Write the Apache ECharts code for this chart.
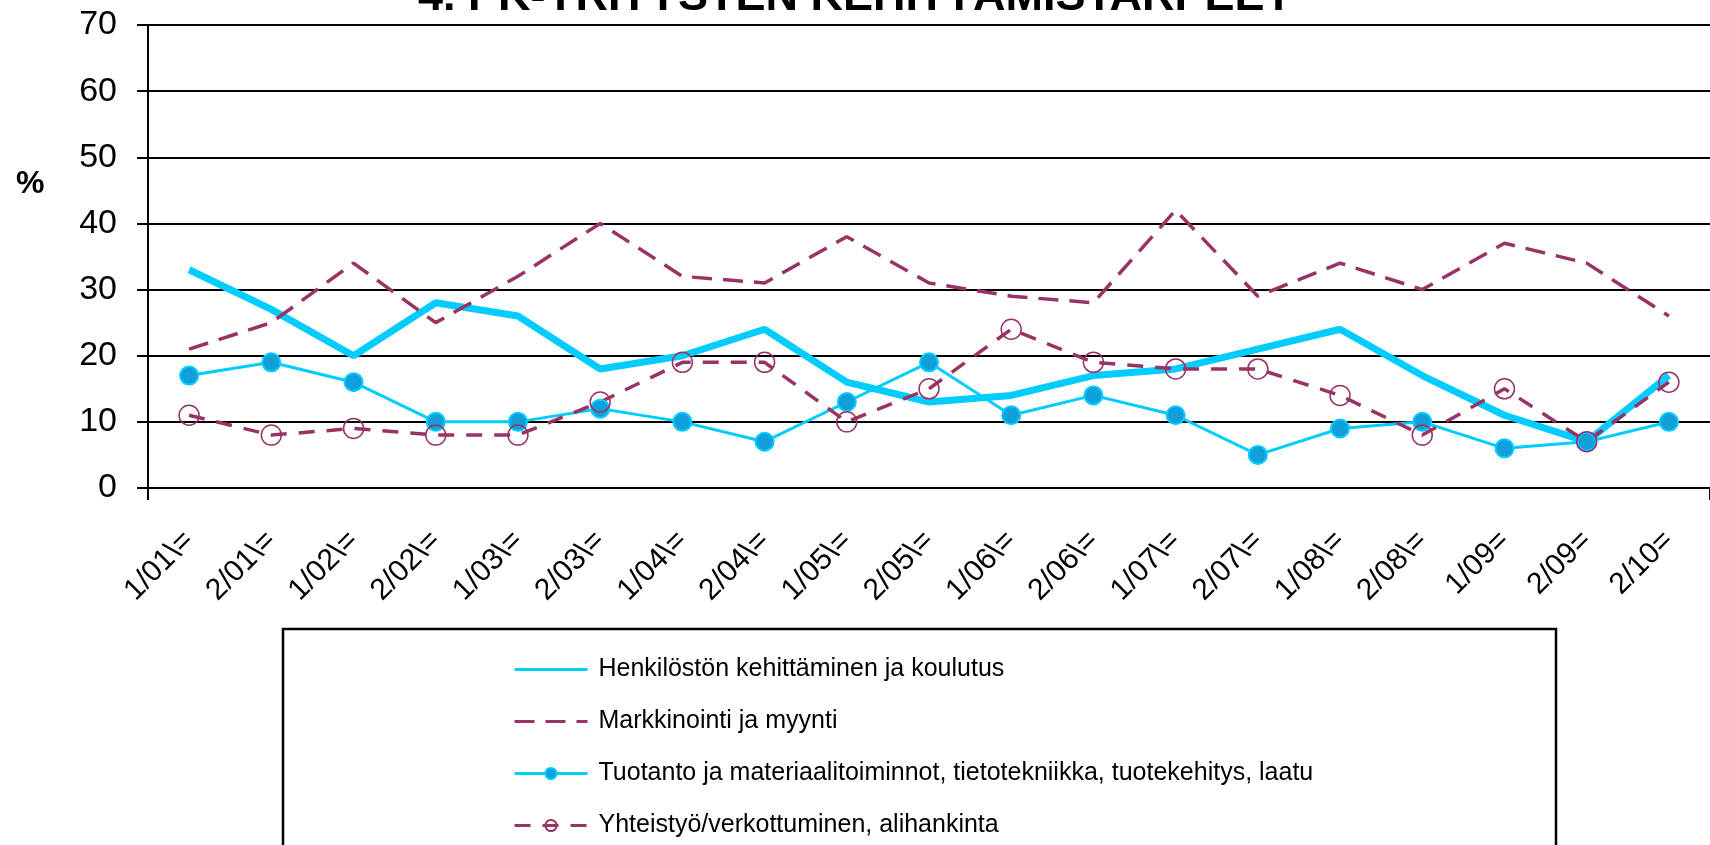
<!DOCTYPE html>
<html>
<head>
<meta charset="utf-8">
<title>PK-yritysten kehittämistarpeet</title>
<script src="https://cdn.jsdelivr.net/npm/echarts@6/dist/echarts.min.js"></script>
<style>
  html, body { margin: 0; padding: 0; background: #fff; }
  #chart { width: 1710px; height: 845px; }
</style>
</head>
<body>
<div id="chart"></div>
<script>
const categories = ['1/01\\=', '2/01\\=', '1/02\\=', '2/02\\=', '1/03\\=', '2/03\\=', '1/04\\=', '2/04\\=', '1/05\\=', '2/05\\=',
  '1/06\\=', '2/06\\=', '1/07\\=', '2/07\\=', '1/08\\=', '2/08\\=', '1/09=', '2/09=', '2/10=']
const henkilosto = [33, 27, 20, 28, 26, 18, 20, 24, 16, 13, 14, 17, 18, 21, 24, 17, 11, 7, 17]
const markkinointi = [21, 25, 34, 25, 32, 40, 32, 31, 38, 31, 29, 28, 42, 29, 34, 30, 37, 34, 26]
const tuotanto = [17, 19, 16, 10, 10, 12, 10, 7, 13, 19, 11, 14, 11, 5, 9, 10, 6, 7, 10]
const yhteistyo = [11, 8, 9, 8, 8, 13, 19, 19, 10, 15, 24, 19, 18, 18, 14, 8, 15, 7, 16]
const yTicks = { min: 0, max: 70, interval: 10 }

const names = [
  'Henkilöstön kehittäminen ja koulutus',
  'Markkinointi ja myynti',
  'Tuotanto ja materiaalitoiminnot, tietotekniikka, tuotekehitys, laatu',
  'Yhteistyö/verkottuminen, alihankinta'
]
const cyan = '#00CCFF'
const plum = '#993366'
const font = 'Liberation Sans, Arial, sans-serif'

const chart = echarts.init(document.getElementById('chart'))
const option = {
  animation: false,
  backgroundColor: '#fff',
  title: {
    text: '4. PK-YRITYSTEN KEHITTÄMISTARPEET',
    left: 'center',
    top: -25,
    padding: 0,
    textStyle: { fontFamily: font, fontSize: 45, fontWeight: 'bold', color: '#000' }
  },
  grid: { left: 148, right: -19, top: 25, bottom: 357 },
  legend: {
    orient: 'vertical',
    left: 508,
    top: 652,
    itemWidth: 73,
    itemHeight: 14,
    itemGap: 27,
    textStyle: { fontFamily: font, fontSize: 25, color: '#000', lineHeight: 25, padding: [0, 0, 0, 6] },
    data: [
      { name: names[0], lineStyle: { width: 3 }, itemStyle: { opacity: 0 } },
      { name: names[1], lineStyle: { width: 3 }, itemStyle: { opacity: 0 } },
      { name: names[2], lineStyle: { width: 3 } },
      { name: names[3], lineStyle: { width: 3 } }
    ]
  },
  graphic: [
    {
      type: 'rect',
      shape: { x: 283, y: 629, width: 1273, height: 260 },
      style: { fill: 'none', stroke: '#000', lineWidth: 2.5 }
    },
    {
      type: 'text',
      left: 16,
      top: 168,
      style: { text: '%', font: 'bold 32px Liberation Sans, Arial, sans-serif', fill: '#000' }
    }
  ],
  xAxis: {
    type: 'category',
    data: categories,
    boundaryGap: true,
    axisLine: { lineStyle: { color: '#000', width: 2 } },
    axisTick: { show: true, interval: (i) => i === 0, length: 12, lineStyle: { color: '#000', width: 2 } },
    axisLabel: { interval: 0, rotate: 45, margin: 48, fontFamily: font, fontSize: 30, color: '#000' },
    splitLine: { show: false }
  },
  yAxis: {
    type: 'value',
    min: yTicks.min,
    max: yTicks.max,
    interval: yTicks.interval,
    axisLine: { show: true, lineStyle: { color: '#000', width: 2 } },
    axisTick: { show: true, length: 11, lineStyle: { color: '#000', width: 2 } },
    axisLabel: { margin: 31, fontFamily: font, fontSize: 34, color: '#000' },
    splitLine: { lineStyle: { color: '#000', width: 2 } }
  },
  series: [
    {
      name: names[0],
      type: 'line',
      data: henkilosto,
      symbol: 'none',
      color: cyan,
      lineStyle: { color: cyan, width: 7 }
    },
    {
      name: names[1],
      type: 'line',
      data: markkinointi,
      symbol: 'none',
      color: plum,
      lineStyle: { color: plum, width: 3.5, type: [20, 11] }
    },
    {
      name: names[2],
      type: 'line',
      data: tuotanto,
      symbol: 'circle',
      symbolSize: 18,
      color: cyan,
      lineStyle: { color: cyan, width: 3 },
      itemStyle: { color: '#109FD8', borderColor: cyan, borderWidth: 2 }
    },
    {
      name: names[3],
      type: 'line',
      data: yhteistyo,
      symbol: 'circle',
      symbolSize: 20,
      color: plum,
      lineStyle: { color: plum, width: 3.5, type: [16, 12] },
      itemStyle: { color: 'rgba(255,255,255,0)', borderColor: plum, borderWidth: 1.5 }
    }
  ]
}
chart.setOption(option)
</script>
</body>
</html>
